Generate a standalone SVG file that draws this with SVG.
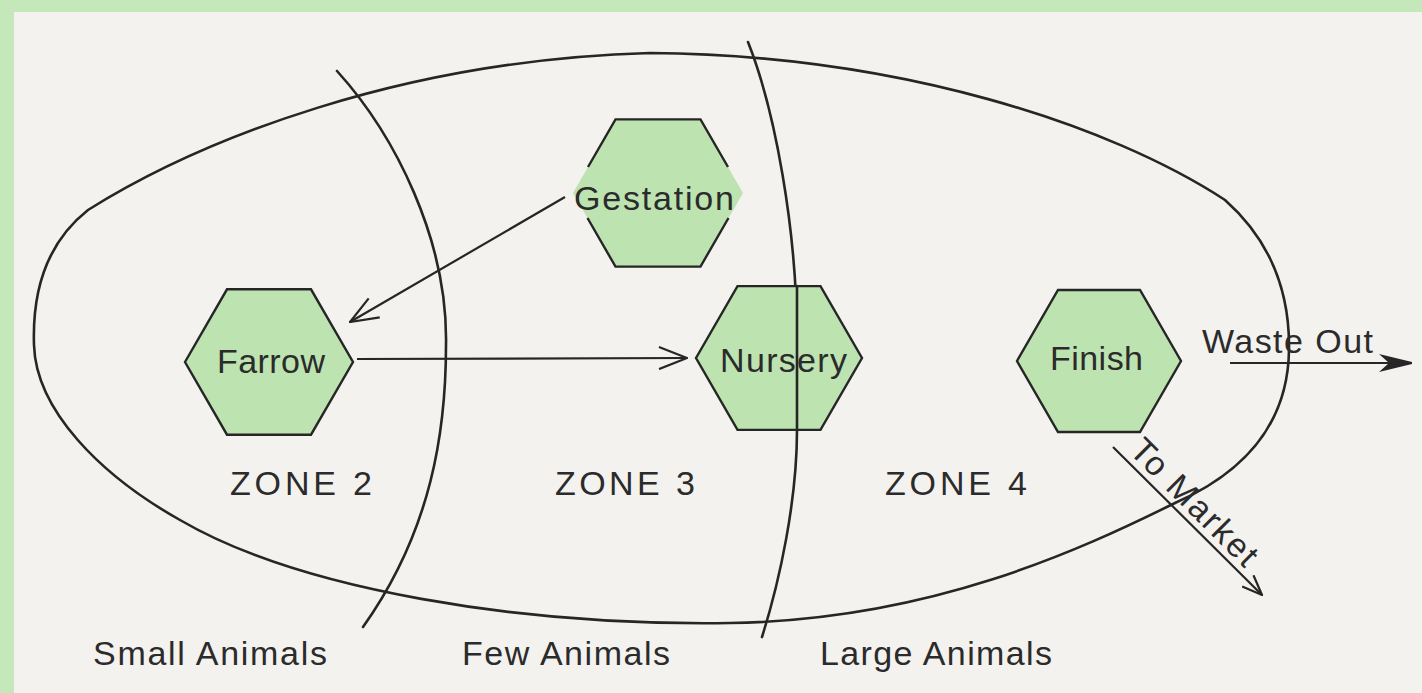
<svg xmlns="http://www.w3.org/2000/svg" width="1422" height="693" viewBox="0 0 1422 693">
<style>
.bg{fill:#f4f2ef}
.frame{fill:#c4e8ba}
.line{fill:none;stroke:#262626;stroke-width:2.6;stroke-linecap:round}
.hex{fill:#bde3b1;stroke:#262626;stroke-width:2.4;stroke-linejoin:miter}
.hexfill{fill:#bde3b1;stroke:none}
.conn{fill:none;stroke:#262626;stroke-width:2.2}
.lbl{font-family:"Liberation Sans",Arial,sans-serif;font-size:34px;fill:#2b2b2b}
</style>
<defs>
<marker id="arr" markerUnits="userSpaceOnUse" viewBox="0 0 30 24" markerWidth="30" markerHeight="24" refX="29" refY="12" orient="auto">
<path d="M1,1 L29,12 L1,23" fill="none" stroke="#262626" stroke-width="2.2"/>
</marker>
<marker id="arrs" markerUnits="userSpaceOnUse" viewBox="0 0 22 18" markerWidth="22" markerHeight="18" refX="21" refY="9" orient="auto">
<path d="M1,1 L21,9 L1,17" fill="none" stroke="#262626" stroke-width="2.2"/>
</marker>
<marker id="arrf" markerUnits="userSpaceOnUse" viewBox="0 0 36 22" markerWidth="36" markerHeight="22" refX="35" refY="11" orient="auto">
<path d="M2,2 L35,10 L35,12 L2,20 L12,11 Z" fill="#262626"/>
</marker>
</defs>
<rect class="bg" x="0" y="0" width="1422" height="693"/>
<rect class="frame" x="0" y="0" width="1422" height="12"/>
<rect class="frame" x="0" y="0" width="14" height="693"/>

<g id="zones">
<path id="boundary" class="line" d="M34,345 C32,285 50,240 88,210 C200,140 400,60 650,53 C900,55 1110,125 1225,200 C1270,240 1290,290 1289,350 C1288,420 1250,470 1175,503 C1080,550 930,620 730,623 C520,626 300,590 180,520 C100,475 36,410 34,345 Z"/>
<path id="divider-left" class="line" d="M337,71 C395,135 448,240 446,345 C446,430 432,530 363,627"/>
<path id="divider-right" class="line" d="M748,42 C775,110 797,230 797,340 L797,430 C797,500 780,580 762,637"/>
</g>

<g id="node-gestation">
<polygon class="hexfill" points="573,193 615.5,119.4 700.5,119.4 743,193 700.5,266.6 615.5,266.6"/>
<polyline class="conn" style="stroke-width:2.4" points="588,167 615.5,119.4 700.5,119.4 728,167"/>
<polyline class="conn" style="stroke-width:2.4" points="587.5,218 615.5,266.6 700.5,266.6 728.5,218"/>
<text class="lbl" x="574" y="210" textLength="160">Gestation</text>
</g>

<g id="node-farrow">
<polygon class="hex" points="185,362 227,289.3 311,289.3 353,362 311,434.7 227,434.7"/>
<text class="lbl" x="217" y="373" textLength="108">Farrow</text>
</g>

<g id="node-nursery">
<polygon class="hex" points="696,358 737.5,286.1 820.5,286.1 862,358 820.5,429.9 737.5,429.9"/>
<text class="lbl" x="720" y="372" textLength="127">Nursery</text>
</g>

<g id="node-finish">
<polygon class="hex" points="1017,361 1058,290 1140,290 1181,361 1140,432 1058,432"/>
<text class="lbl" x="1050" y="370" textLength="93">Finish</text>
</g>

<g id="zone-overlay">
<path class="line" d="M797,286 L797,430"/>
</g>

<g id="connectors">
<line class="conn" x1="565" y1="197" x2="350" y2="322" marker-end="url(#arr)"/>
<line class="conn" x1="357" y1="359" x2="687" y2="358" marker-end="url(#arr)"/>
<line class="conn" x1="1230" y1="363" x2="1412" y2="363" marker-end="url(#arrf)"/>
<line class="conn" x1="1113" y1="447" x2="1262" y2="595" marker-end="url(#arrs)"/>
</g>

<g id="labels">
<text class="lbl" x="230" y="495" textLength="142">ZONE 2</text>
<text class="lbl" x="555" y="495" textLength="140">ZONE 3</text>
<text class="lbl" x="885" y="495" textLength="142">ZONE 4</text>
<text class="lbl" x="93" y="665" textLength="234">Small Animals</text>
<text class="lbl" x="462" y="665" textLength="208">Few Animals</text>
<text class="lbl" x="820" y="665" textLength="232">Large Animals</text>
<text class="lbl" x="1202" y="353" textLength="171">Waste Out</text>
<text class="lbl" x="1128" y="452" textLength="165" transform="rotate(45 1128 452)">To Market</text>
</g>
</svg>
